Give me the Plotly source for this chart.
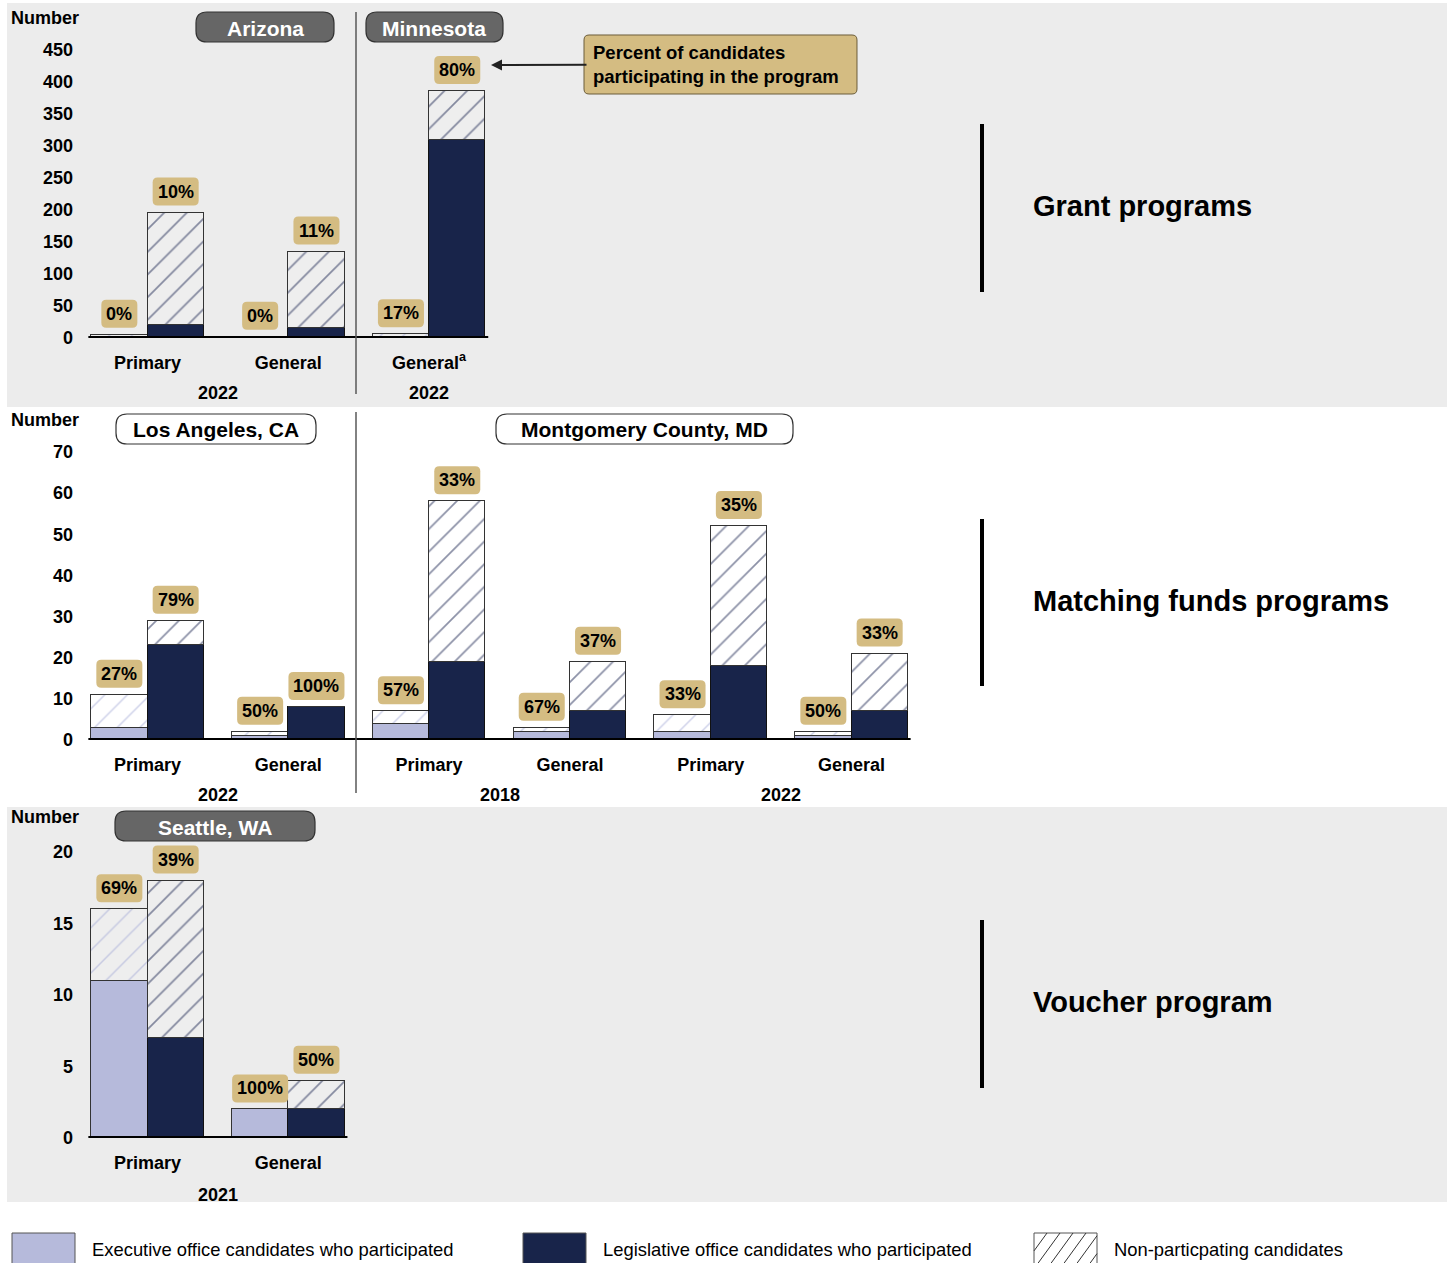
import plotly.graph_objects as go

W = 1450
H_REF = 1263          # coordinate base (reference pixels)
H = 1273              # figure height (the capture maps it back onto 1263 rows)
FONT = "Liberation Sans, Arial, sans-serif"

# ---------------- DATA ----------------
# Panel 1: Grant programs (Arizona 2022 primary/general, Minnesota 2022 general)
groups_1 = ["Primary", "General", "General<sup>a</sup>"]
exec_part_1 = [0, 0, 1]
exec_non_1 = [5, 2, 5]
leg_part_1 = [20, 15, 309]
leg_non_1 = [176, 120, 77]
pct_exec_1 = ["0%", "0%", "17%"]
pct_leg_1 = ["10%", "11%", "80%"]
years_1 = [("2022", [0, 1]), ("2022", [2])]
yticks_1 = [0, 50, 100, 150, 200, 250, 300, 350, 400, 450]

# Panel 2: Matching funds programs (Los Angeles 2022, Montgomery County 2018 & 2022)
groups_2 = ["Primary", "General", "Primary", "General", "Primary", "General"]
exec_part_2 = [3, 1, 4, 2, 2, 1]
exec_non_2 = [8, 1, 3, 1, 4, 1]
leg_part_2 = [23, 8, 19, 7, 18, 7]
leg_non_2 = [6, 0, 39, 12, 34, 14]
pct_exec_2 = ["27%", "50%", "57%", "67%", "33%", "50%"]
pct_leg_2 = ["79%", "100%", "33%", "37%", "35%", "33%"]
years_2 = [("2022", [0, 1]), ("2018", [2, 3]), ("2022", [4, 5])]
yticks_2 = [0, 10, 20, 30, 40, 50, 60, 70]

# Panel 3: Voucher program (Seattle 2021)
groups_3 = ["Primary", "General"]
exec_part_3 = [11, 2]
exec_non_3 = [5, 0]
leg_part_3 = [7, 2]
leg_non_3 = [11, 2]
pct_exec_3 = ["69%", "100%"]
pct_leg_3 = ["39%", "50%"]
years_3 = [("2021", [0, 1])]
yticks_3 = [0, 5, 10, 15, 20]

program_names = ["Grant programs", "Matching funds programs", "Voucher program"]
legend_labels = ["Executive office candidates who participated",
                 "Legislative office candidates who participated",
                 "Non-particpating candidates"]

# ---------------- STYLE ----------------
C_EXEC = "#b6badb"
C_LEG = "#18244a"
C_TAN = "#d4bc82"
C_PANEL = "#ececec"
C_PILL = "#666666"
OUTLINE = "#333333"


def px(x):
    return x / W


def py(y):
    return 1 - y / H_REF


def text_width(s, size):
    w = 0.0
    for ch in s:
        w += 0.889 if ch == "%" else 0.556
    return w * size


def rpath(x0, y0, x1, y1, r, fx=lambda v: v, fy=lambda v: v, fmt="{:.5f}"):
    pts = [("M", x0 + r, y0), ("L", x1 - r, y0), ("Q", x1, y0, x1, y0 + r), ("L", x1, y1 - r),
           ("Q", x1, y1, x1 - r, y1), ("L", x0 + r, y1), ("Q", x0, y1, x0, y1 - r),
           ("L", x0, y0 + r), ("Q", x0, y0, x0 + r, y0)]
    s = ""
    for pt in pts:
        coords = pt[1:]
        parts = []
        for k in range(0, len(coords), 2):
            parts.append(fmt.format(fx(coords[k])) + "," + fmt.format(fy(coords[k + 1])))
        s += pt[0] + " " + " ".join(parts) + " "
    return s + "Z"


def rrect(x0, y0, x1, y1, r):
    return rpath(x0, y0, x1, y1, r, fx=px, fy=py)


fig = go.Figure()

panels = [
    dict(groups=groups_1, ep=exec_part_1, en=exec_non_1, lp=leg_part_1, ln=leg_non_1,
         pe=pct_exec_1, pl=pct_leg_1, years=years_1, yt=yticks_1, hbg="#eeeeee",
         dom=(338, 40), scale=0.64, year_y=393, ax="1"),
    dict(groups=groups_2, ep=exec_part_2, en=exec_non_2, lp=leg_part_2, ln=leg_non_2,
         pe=pct_exec_2, pl=pct_leg_2, years=years_2, yt=yticks_2, hbg="#ffffff",
         dom=(740, 440), scale=288 / 70, year_y=795, ax="2"),
    dict(groups=groups_3, ep=exec_part_3, en=exec_non_3, lp=leg_part_3, ln=leg_non_3,
         pe=pct_exec_3, pl=pct_leg_3, years=years_3, yt=yticks_3, hbg="#eeeeee",
         dom=(1138, 840), scale=14.3, year_y=1195, ax="3"),
]

annotations = []
shapes = []

X_DOM = (88, 940)
X_RANGE = [(88 - 147.5) / 140.8, (940 - 147.5) / 140.8]
BW = 0.4
BOLD18 = dict(family=FONT, size=18, color="black", weight="bold")

for p in panels:
    n = len(p["groups"])
    xe = [i - BW / 2 for i in range(n)]
    xl = [i + BW / 2 for i in range(n)]
    suffix = "" if p["ax"] == "1" else p["ax"]
    xa, ya = "x" + suffix, "y" + suffix
    common = dict(xaxis=xa, yaxis=ya, width=BW, showlegend=False, hoverinfo="skip")
    fig.add_trace(go.Bar(x=xe, y=p["ep"], marker=dict(color=C_EXEC, line=dict(color=OUTLINE, width=1)), **common))
    fig.add_trace(go.Bar(x=xe, y=p["en"], marker=dict(color=p["hbg"], line=dict(color=OUTLINE, width=1),
                                                        pattern=dict(shape="/", fgcolor="#9ca3d4", bgcolor=p["hbg"],
                                                                     size=16, solidity=0.09)), **common))
    fig.add_trace(go.Bar(x=xl, y=p["lp"], marker=dict(color=C_LEG, line=dict(color="#111111", width=1)), **common))
    fig.add_trace(go.Bar(x=xl, y=p["ln"], marker=dict(color=p["hbg"], line=dict(color=OUTLINE, width=1),
                                                        pattern=dict(shape="/", fgcolor="#1a2450", bgcolor=p["hbg"],
                                                                     size=16, solidity=0.11)), **common))
    # percent labels: rounded tan badge anchored at the bar top, text on top
    for i in range(n):
        for xv, tot, txt in [(xe[i], p["ep"][i] + p["en"][i], p["pe"][i]),
                             (xl[i], p["lp"][i] + p["ln"][i], p["pl"][i])]:
            hw = text_width(txt, 18) / 2 + 5
            shapes.append(dict(type="path", xref=xa, yref=ya, xsizemode="pixel", ysizemode="pixel",
                               xanchor=xv, yanchor=tot, path=rpath(-hw, 7, hw, 35, 5, fmt="{:.2f}"),
                               fillcolor=C_TAN, line=dict(width=0), layer="above"))
            annotations.append(dict(x=xv, y=tot, xref=xa, yref=ya, text=txt, showarrow=False,
                                    xanchor="center", yanchor="middle", yshift=21, font=BOLD18))
    # baseline
    shapes.append(dict(type="line", xref=xa, yref=ya, x0=-0.42, x1=n - 1 + 0.42, y0=0, y1=0,
                       line=dict(color="black", width=4), layer="above"))
    # year labels
    for yr, idx in p["years"]:
        annotations.append(dict(x=sum(idx) / len(idx), y=py(p["year_y"]), xref=xa, yref="paper",
                                text=yr, showarrow=False, xanchor="center", yanchor="middle", font=BOLD18))
    yb, yt = p["dom"]
    fig.update_layout(**{
        ("xaxis" + suffix): dict(domain=[px(X_DOM[0]), px(X_DOM[1])], range=X_RANGE, anchor=ya,
                                 tickvals=list(range(n)), ticktext=p["groups"], showgrid=False,
                                 zeroline=False, showline=False, ticks="", ticklabelstandoff=12,
                                 tickfont=BOLD18),
        ("yaxis" + suffix): dict(domain=[py(yb), py(yt)], range=[0, (yb - yt) / p["scale"]], anchor=xa,
                                 tickvals=p["yt"], showgrid=False, zeroline=False, showline=False,
                                 ticks="", ticklabelstandoff=14, tickfont=BOLD18),
    })

# ---------------- DECORATIONS ----------------
# panel backgrounds
for y0, y1 in [(3, 407), (807, 1202)]:
    shapes.append(dict(type="rect", xref="paper", yref="paper", x0=px(7), x1=px(1447), y0=py(y1), y1=py(y0),
                       fillcolor=C_PANEL, line=dict(width=0), layer="below"))

# pill headers
pills = [("Arizona", 196, 12, 334, 42, C_PILL, "white"),
         ("Minnesota", 366, 12, 503, 42, C_PILL, "white"),
         ("Los Angeles, CA", 116, 414, 316, 444, "white", "black"),
         ("Montgomery County, MD", 496, 414, 793, 444, "white", "black"),
         ("Seattle, WA", 115, 811, 315, 841, C_PILL, "white")]
for txt, x0, y0, x1, y1, fill, tc in pills:
    shapes.append(dict(type="path", xref="paper", yref="paper", path=rrect(x0, y0, x1, y1, 11),
                       fillcolor=fill, line=dict(color="#333333", width=1.2)))
    annotations.append(dict(x=px((x0 + x1) / 2), y=py((y0 + y1) / 2 + 1), xref="paper", yref="paper", text=txt,
                            showarrow=False, xanchor="center", yanchor="middle",
                            font=dict(family=FONT, size=21, color=tc, weight="bold")))

# "Number" labels
for yy in [18, 420, 817]:
    annotations.append(dict(x=px(9), y=py(yy), xref="paper", yref="paper", text="Number", showarrow=False,
                            xanchor="left", yanchor="middle", font=BOLD18))

# separators
for y0, y1 in [(12, 394), (412, 793)]:
    shapes.append(dict(type="line", xref="paper", yref="paper", x0=px(356), x1=px(356), y0=py(y0), y1=py(y1),
                       line=dict(color="#595959", width=1.5)))

# program bars + names
for name, (y0, y1) in zip(program_names, [(124, 292), (519, 686), (920, 1088)]):
    shapes.append(dict(type="line", xref="paper", yref="paper", x0=px(982), x1=px(982), y0=py(y0), y1=py(y1),
                       line=dict(color="black", width=4)))
    annotations.append(dict(x=px(1031), y=py((y0 + y1) / 2 - 2), xref="paper", yref="paper", text=name,
                            showarrow=False, xanchor="left", yanchor="middle",
                            font=dict(family=FONT, size=29, color="black", weight="bold")))

# callout box with arrow pointing at the 80% label
shapes.append(dict(type="path", xref="paper", yref="paper", path=rrect(584, 35, 857, 94, 5),
                   fillcolor=C_TAN, line=dict(color="#6b5d3a", width=1)))
annotations.append(dict(x=px(491), y=py(65), xref="paper", yref="paper",
                        text="Percent of candidates<br>participating in the program", align="left",
                        width=255, borderpad=6, showarrow=True, ax=229.5, ay=-0.5, axref="pixel", ayref="pixel",
                        arrowhead=2, arrowsize=1.1, arrowwidth=2, arrowcolor="#222222",
                        font=dict(family=FONT, size=18.5, color="black", weight="bold")))

# legend swatches
LEG_TOP, LEG_BOT = 1233, 1266
for x0, col in [(12, C_EXEC), (523, C_LEG)]:
    shapes.append(dict(type="rect", xref="paper", yref="paper", x0=px(x0), x1=px(x0 + 63), y0=py(LEG_BOT),
                       y1=py(LEG_TOP), fillcolor=col, line=dict(color="#555555", width=1)))
hx0, hx1 = 1034, 1097
shapes.append(dict(type="rect", xref="paper", yref="paper", x0=px(hx0), x1=px(hx1), y0=py(LEG_BOT),
                   y1=py(LEG_TOP), fillcolor="white", line=dict(color="#555555", width=1)))
dx = 24
c = hx0 - dx
while c < hx1:
    xa0, ya0, xa1, ya1 = c, LEG_BOT, c + dx, LEG_TOP
    if xa0 < hx0:
        t = (hx0 - xa0) / dx
        xa0, ya0 = hx0, LEG_BOT + (LEG_TOP - LEG_BOT) * t
    if xa1 > hx1:
        t = (hx1 - c) / dx
        xa1, ya1 = hx1, LEG_BOT + (LEG_TOP - LEG_BOT) * t
    if xa1 > xa0:
        shapes.append(dict(type="line", xref="paper", yref="paper", x0=px(xa0), y0=py(ya0), x1=px(xa1),
                           y1=py(ya1), line=dict(color="#333333", width=1)))
    c += 13
for x0, txt in zip([90, 601, 1112], legend_labels):
    annotations.append(dict(x=px(x0), y=py(1249), xref="paper", yref="paper", text=txt, showarrow=False,
                            xanchor="left", yanchor="middle", font=dict(family=FONT, size=18.4, color="black")))

fig.update_layout(
    width=W, height=H, margin=dict(l=0, r=0, t=0, b=0), autosize=False,
    paper_bgcolor="white", plot_bgcolor="rgba(0,0,0,0)",
    barmode="stack", bargap=0,
    shapes=shapes, annotations=annotations,
    font=dict(family=FONT, color="black"),
)

fig.write_html("out.html")
